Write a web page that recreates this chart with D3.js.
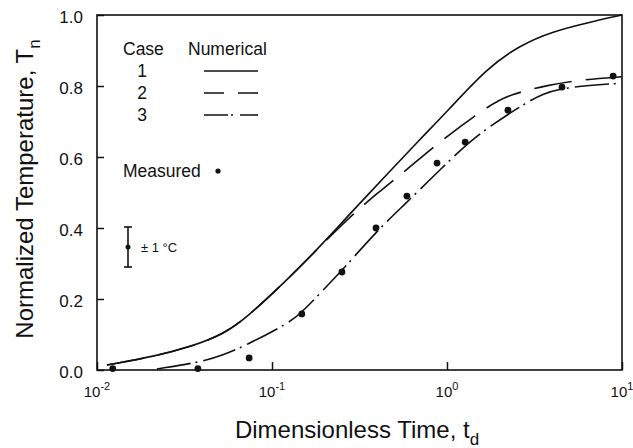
<!DOCTYPE html>
<html>
<head>
<meta charset="utf-8">
<script src="https://cdn.jsdelivr.net/npm/d3@7"></script>
<style>
  body { margin: 0; background: #fff; }
  svg { display: block; }
  text { font-family: "Liberation Sans", Arial, sans-serif; fill: #111; }
</style>
</head>
<body>
<svg width="633" height="448"></svg>
<script>
// axis ticks
var xTickValues = [0.01, 0.1, 1, 10];
var xTickExponents = ['-2', '-1', '0', '1'];
var yTickValues = [0, 0.2, 0.4, 0.6, 0.8, 1.0];

// numerical results, [t_d, T_n]
var case1 = [[0.0114, 0.014], [0.022, 0.040], [0.034, 0.065], [0.0525, 0.100], [0.072, 0.148],
  [0.127, 0.262], [0.188, 0.348], [0.279, 0.440], [0.472, 0.560], [0.701, 0.650], [1.0, 0.728],
  [1.69, 0.850], [2.61, 0.915], [4.04, 0.954], [6.31, 0.978], [10, 1.0]];
var case2 = [[0.0114, 0.014], [0.022, 0.040], [0.034, 0.065], [0.0525, 0.100], [0.072, 0.148],
  [0.127, 0.262], [0.188, 0.348], [0.279, 0.432], [0.404, 0.500], [0.575, 0.560], [1.0, 0.660],
  [1.8, 0.750], [2.29, 0.776], [3.78, 0.803], [6.0, 0.818], [10, 0.826]];
var case3 = [[0.022, 0.003], [0.039, 0.022], [0.0525, 0.042], [0.070, 0.068], [0.127, 0.134],
  [0.150, 0.165], [0.214, 0.245], [0.255, 0.284], [0.398, 0.392], [0.561, 0.462], [0.948, 0.572],
  [1.45, 0.660], [2.61, 0.742], [3.54, 0.780], [5.0, 0.798], [10, 0.808]];

// measured
var measured = [[0.0123, 0.004], [0.0377, 0.004], [0.074, 0.034], [0.148, 0.158], [0.251, 0.276],
  [0.393, 0.40], [0.59, 0.49], [0.877, 0.583], [1.27, 0.642], [2.23, 0.732], [4.54, 0.797],
  [8.9, 0.828]];

var svg = d3.select('svg');
var margin = {top: 15, right: 11, bottom: 78, left: 97};
var width = 633 - margin.left - margin.right;
var height = 448 - margin.top - margin.bottom;

var g = svg.append('g').attr('transform', 'translate(' + margin.left + ',' + margin.top + ')');

var x = d3.scaleLog().domain([0.01, 10]).range([0, width]);
var y = d3.scaleLinear().domain([0, 1]).range([height, 0]);

// axes, ticks pointing inward
var yAxis = g.append('g')
  .call(d3.axisLeft(y).tickValues(yTickValues).tickSize(-7).tickPadding(14)
    .tickFormat(d3.format('.1f')));
yAxis.select('.domain').remove();
yAxis.selectAll('line').attr('stroke', '#111').attr('stroke-width', 1.5);
yAxis.selectAll('text').attr('font-size', 17).attr('dy', '0.42em').style('font-family', null);

var xAxis = g.append('g').attr('transform', 'translate(0,' + height + ')')
  .call(d3.axisBottom(x).tickValues(xTickValues).tickSize(-8).tickFormat(''));
xAxis.select('.domain').remove();
xAxis.selectAll('line').attr('stroke', '#111').attr('stroke-width', 1.5);

// power-of-ten labels
xTickValues.forEach(function (v, i) {
  var t = g.append('text')
    .attr('x', x(v)).attr('y', height + 27)
    .attr('text-anchor', 'middle').attr('font-size', 15);
  t.append('tspan').text('10');
  t.append('tspan').attr('dy', -7).attr('font-size', 11).text(xTickExponents[i]);
});

// frame
g.append('rect')
  .attr('width', width).attr('height', height)
  .attr('fill', 'none').attr('stroke', '#111').attr('stroke-width', 1.6);

// curves
var line = d3.line()
  .x(function (d) { return x(d[0]); })
  .y(function (d) { return y(d[1]); })
  .curve(d3.curveBasis);

var drawCurve = function (data, dash) {
  g.append('path').datum(data)
    .attr('d', line)
    .attr('fill', 'none').attr('stroke', '#111').attr('stroke-width', 1.6)
    .attr('stroke-dasharray', dash);
};
drawCurve(case1, null);
drawCurve(case2, '38,14');
drawCurve(case3, '34,5,2,6');

g.selectAll('circle.meas').data(measured).enter().append('circle')
  .attr('class', 'meas')
  .attr('cx', function (d) { return x(d[0]); })
  .attr('cy', function (d) { return y(d[1]); })
  .attr('r', 3.4).attr('fill', '#111');

// legend
var createText = function (text, px, py, size) {
  return svg.append('text').attr('x', px).attr('y', py).attr('font-size', size).text(text);
};
createText('Case', 123, 55, 17.5);
createText('Numerical', 188, 55, 17.5);
[['1', 77, null], ['2', 99, '20,14'], ['3', 121, '24,3,2,7']].forEach(function (row) {
  createText(row[0], 142, row[1], 17.5).attr('text-anchor', 'middle');
  svg.append('line')
    .attr('x1', 204).attr('x2', 258).attr('y1', row[1] - 6).attr('y2', row[1] - 6)
    .attr('stroke', '#111').attr('stroke-width', 1.6)
    .attr('stroke-dasharray', row[2]);
});
createText('Measured', 123, 177, 17.5);
svg.append('circle').attr('cx', 218).attr('cy', 171).attr('r', 2.6).attr('fill', '#111');

// error bar
var eb = svg.append('g').attr('stroke', '#111').attr('stroke-width', 1.6);
eb.append('line').attr('x1', 128).attr('x2', 128).attr('y1', 227).attr('y2', 267);
eb.append('line').attr('x1', 124).attr('x2', 132).attr('y1', 227).attr('y2', 227);
eb.append('line').attr('x1', 124).attr('x2', 132).attr('y1', 267).attr('y2', 267);
svg.append('circle').attr('cx', 128).attr('cy', 247).attr('r', 2.5).attr('fill', '#111');
createText('\u00b1 1 \u00b0C', 141, 252, 13);

// axis titles
var xt = svg.append('text').attr('x', 357).attr('y', 438).attr('text-anchor', 'middle').attr('font-size', 24);
xt.append('tspan').text('Dimensionless Time, t');
xt.append('tspan').attr('dy', 7).attr('font-size', 17).text('d');

var yt = svg.append('text').attr('transform', 'translate(33,189) rotate(-90)')
  .attr('text-anchor', 'middle').attr('font-size', 24);
yt.append('tspan').text('Normalized Temperature, T');
yt.append('tspan').attr('dy', 7).attr('font-size', 17).text('n');
</script>
</body>
</html>
